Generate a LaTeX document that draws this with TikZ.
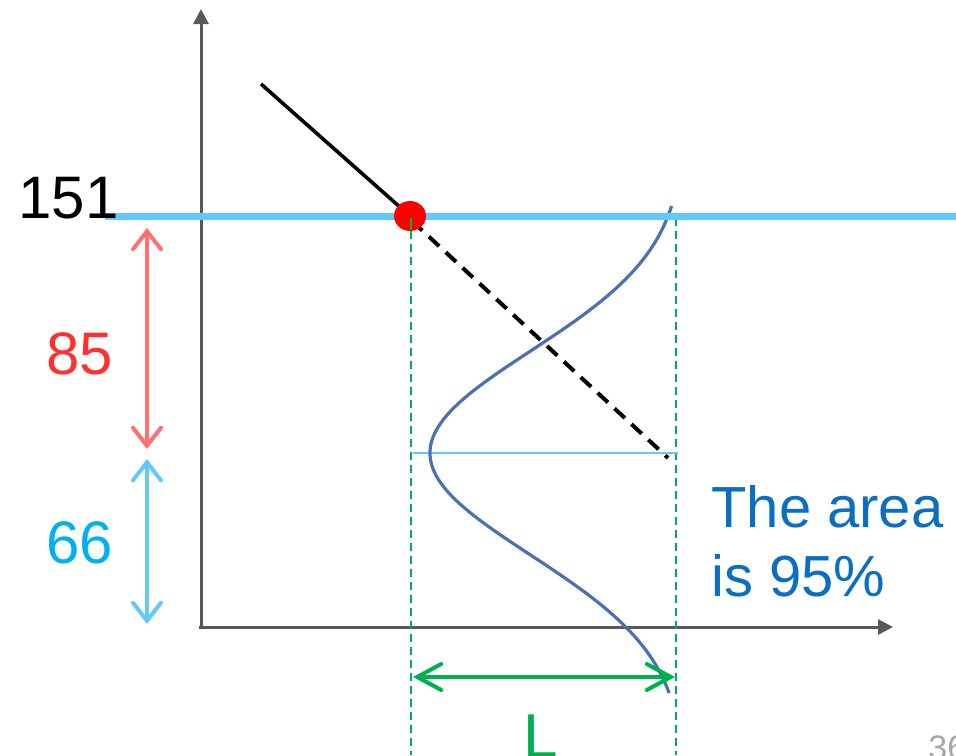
\documentclass[tikz,border=0pt]{standalone}
\usepackage{fontspec}
\setmainfont{Liberation Sans}
\usetikzlibrary{arrows.meta}
\definecolor{axisgray}{HTML}{595959}
\definecolor{lblue}{HTML}{63C8FD}
\definecolor{redarrow}{HTML}{FF7070}
\definecolor{redtext}{HTML}{FF3030}
\definecolor{cyantext}{HTML}{00B0F0}
\definecolor{mygreen}{HTML}{00B050}
\definecolor{curveblue}{HTML}{4A72B0}
\definecolor{areablue}{HTML}{0A6FC2}
\definecolor{pagegray}{HTML}{A6A6A6}
\tikzset{
  axis/.style={draw=axisgray, line width=1.5pt, -{Triangle[length=7.5pt,width=7.5pt]}},
  dimarrow/.style={line width=2pt, line cap=round, {Straight Barb[length=9pt,width=14pt,line cap=round]}-{Straight Barb[length=9pt,width=14pt,line cap=round]}},
  guide/.style={draw=mygreen, line width=1.1pt, dash pattern=on 4pt off 2.5pt},
  bigtext/.style={font=\fontsize{30}{36}\selectfont, inner sep=0pt},
}
\begin{document}
\begin{tikzpicture}[x=0.5pt,y=-0.5pt]
\useasboundingbox (0,0) rectangle (956,755);
% axes
\draw[axis] (201,628) -- (201,9);
\draw[axis] (199,627) -- (893,627);
% green guides
\draw[guide] (411,218) -- (411,755);
\draw[guide] (676,218) -- (676,755);
% thin blue line
\draw[lblue, line width=0.8pt] (413,453) -- (678,453);
% bell curve
\draw[curveblue, line width=1.6pt] plot[domain=206:693, samples=120, variable=\t]
  ({685-255*exp(-(((\t-453)/100)^2)/2.0742)}, \t);
% black line
\draw[black, line width=1.8pt] (261,84) -- (410,216);
\draw[black, line width=2pt, dash pattern=on 7pt off 4.5pt] (412,221) -- (668,458);
% main blue line
\draw[lblue, line width=3.5pt] (105,216) -- (956,216);
% red dot
\fill[red] (410,216) circle [x radius=16, y radius=15];
\draw[mygreen, line width=1.1pt] (411,218) -- (411,230);
% dimension arrows
\draw[dimarrow, redarrow] (147,228) -- (147,449);
\draw[dimarrow, lblue] (147,459) -- (147,624);
\draw[dimarrow, mygreen, {Straight Barb[length=12pt,width=13pt,line cap=round]}-{Straight Barb[length=12pt,width=13pt,line cap=round]}] (413,677) -- (675,677);
% texts
\node[bigtext, anchor=base west] (t151) at (18,218) {151};
\node[bigtext, anchor=base, text=redtext] (t85) at (80,374) {85};
\node[bigtext, anchor=base, text=cyantext] (t66) at (80,563) {66};
\node[bigtext, anchor=base west, text=mygreen, font=\fontsize{31}{36}\selectfont] (tL) at (523,757) {L};
\node[bigtext, anchor=base west, text=areablue, align=left, font=\fontsize{29}{35}\selectfont] (tarea1) at (711,527) {The area};
\node[bigtext, anchor=base west, text=areablue, align=left, font=\fontsize{29}{35}\selectfont] (tarea2) at (711,596) {is 95\%};
\node[anchor=base west, text=pagegray, font=\fontsize{17}{20}\selectfont, inner sep=0pt] (tpage) at (928,759) {36};
\end{tikzpicture}
\end{document}
